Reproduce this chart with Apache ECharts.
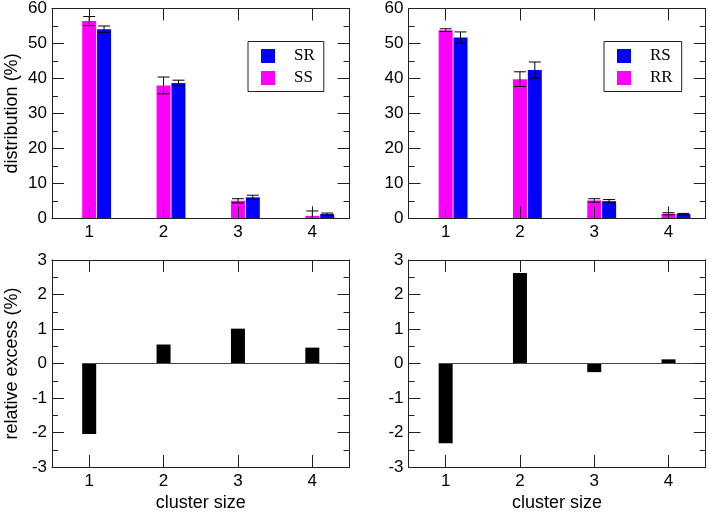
<!DOCTYPE html>
<html>
<head>
<meta charset="utf-8">
<script src="https://cdn.jsdelivr.net/npm/echarts@6/dist/echarts.min.js"></script>
<style>
  html, body { margin: 0; padding: 0; background: #fff; }
  #chart { width: 709px; height: 513px; }
</style>
</head>
<body>
<div id="chart"></div>
<script>
// cluster size categories
const clusterSizes = [1, 2, 3, 4];
const blueShift = 0.2; // blue bar sits right of the tick

// distribution (%), left panel
const ssVals = [56.4, 38.0, 5.0, 0.7];
const ssErr  = [1.3, 2.4, 0.6, 1.4];
const srVals = [54.1, 38.7, 6.0, 1.2];
const srErr  = [0.9, 0.8, 0.6, 0.3];
// distribution (%), right panel
const rrVals = [53.8, 39.8, 5.1, 1.3];
const rrErr  = [0.4, 2.1, 0.5, 0.3];
const rsVals = [51.7, 42.4, 4.9, 1.2];
const rsErr  = [1.6, 2.3, 0.45, 0.2];
// relative excess (%)
const excessS = [-2.04, 0.55, 1.01, 0.46];
const excessR = [-2.31, 2.62, -0.25, 0.12];

const MAGENTA = '#ff00ff', BLUE = '#0000ff', INK = '#222';
const FONT = 'Liberation Sans';

const chart = echarts.init(document.getElementById('chart'));

const grids = [
  { left: 52, top: 8, width: 297.5, height: 210.3 },
  { left: 408.5, top: 8, width: 297.2, height: 210.3 },
  { left: 52, top: 260, width: 297.5, height: 209.3 },
  { left: 408.5, top: 260, width: 297.2, height: 209.3 }
];

const xAxes = [], yAxes = [];
grids.forEach((g, i) => {
  const bottomRow = i >= 2;
  const common = {
    type: 'value', gridIndex: i, min: 0.5, max: 4.5, z: 6,
    splitLine: { show: false },
    axisLine: { show: true, onZero: false, lineStyle: { color: INK, width: 1 } },
    axisTick: { show: true, inside: true, length: 12, customValues: clusterSizes, lineStyle: { color: INK } }
  };
  xAxes.push(Object.assign({}, common, {
    position: 'bottom',
    axisLabel: { customValues: clusterSizes, color: '#000', fontSize: 17, fontFamily: FONT, margin: 6 },
    name: bottomRow ? 'cluster size' : '',
    nameLocation: 'middle', nameGap: 27,
    nameTextStyle: { fontSize: 18, fontFamily: FONT, color: '#000' }
  }));
  xAxes.push(Object.assign({}, common, { position: 'top', axisLabel: { show: false } }));

  const yc = {
    type: 'value', gridIndex: i, z: 6,
    min: bottomRow ? -3 : 0, max: bottomRow ? 3 : 60, interval: bottomRow ? 1 : 10,
    splitLine: { show: false },
    axisLine: { show: true, onZero: false, lineStyle: { color: INK, width: 1 } },
    axisTick: { show: true, inside: true, length: 12, lineStyle: { color: INK } },
    minorTick: { show: true, splitNumber: 2, length: 6, lineStyle: { color: INK } }
  };
  let yName = '';
  if (i === 0) yName = 'distribution (%)';
  if (i === 2) yName = 'relative excess (%)';
  yAxes.push(Object.assign({}, yc, {
    position: 'left',
    axisLabel: { color: '#000', fontSize: 17, fontFamily: FONT, margin: 5 },
    name: yName, nameLocation: 'middle', nameGap: 31,
    nameTextStyle: { fontSize: 18, fontFamily: FONT, color: '#000' }
  }));
  yAxes.push(Object.assign({}, yc, { position: 'right', axisLabel: { show: false } }));
});

function pts(xs, ys, shift) {
  return xs.map((x, k) => [x + shift, ys[k]]);
}
function errPts(xs, ys, es, shift) {
  return xs.map((x, k) => [x + shift, ys[k], es[k]]);
}

function barSeries(name, data, color, gi) {
  return {
    name: name, type: 'bar', xAxisIndex: 2 * gi, yAxisIndex: 2 * gi,
    data: data, barWidth: 14, barGap: '-100%',
    itemStyle: { color: color }, silent: true
  };
}

function errSeries(data, gi) {
  return {
    type: 'custom', xAxisIndex: 2 * gi, yAxisIndex: 2 * gi, clip: true, silent: true,
    data: data, z: 5,
    renderItem: function (params, api) {
      const x = api.value(0), y = api.value(1), e = api.value(2);
      const hi = api.coord([x, y + e]);
      const lo = api.coord([x, y - e]);
      const w = 6;
      const st = { stroke: '#000', lineWidth: 1 };
      return {
        type: 'group',
        children: [
          { type: 'line', shape: { x1: hi[0], y1: hi[1], x2: lo[0], y2: lo[1] }, style: st },
          { type: 'line', shape: { x1: hi[0] - w, y1: hi[1], x2: hi[0] + w, y2: hi[1] }, style: st },
          { type: 'line', shape: { x1: lo[0] - w, y1: lo[1], x2: lo[0] + w, y2: lo[1] }, style: st }
        ]
      };
    }
  };
}

function excessSeries(vals, gi) {
  return {
    type: 'bar', xAxisIndex: 2 * gi, yAxisIndex: 2 * gi,
    data: pts(clusterSizes, vals, 0), barWidth: 14,
    itemStyle: { color: '#000' }, silent: true,
    markLine: {
      silent: true, symbol: 'none', label: { show: false },
      lineStyle: { color: '#444', width: 1, type: 'solid' },
      data: [[{ coord: [0.91, 0] }, { coord: [4.5, 0] }]]
    }
  };
}

const legendBase = {
  orient: 'vertical', icon: 'rect', itemWidth: 14, itemHeight: 14, itemGap: 5,
  padding: [6, 9, 5, 13], borderColor: INK, borderWidth: 1,
  selectedMode: false,
  textStyle: { fontFamily: 'Liberation Serif', fontSize: 17, color: '#000', padding: [0, 0, 0, 14] }
};

chart.setOption({
  animation: false,
  grid: grids,
  xAxis: xAxes,
  yAxis: yAxes,
  legend: [
    Object.assign({}, legendBase, { data: ['SR', 'SS'], left: 248, top: 41.5 }),
    Object.assign({}, legendBase, { data: ['RS', 'RR'], left: 604, top: 41.5 })
  ],
  series: [
    barSeries('SS', pts(clusterSizes, ssVals, 0), MAGENTA, 0),
    barSeries('SR', pts(clusterSizes, srVals, blueShift), BLUE, 0),
    errSeries(errPts(clusterSizes, ssVals, ssErr, 0), 0),
    errSeries(errPts(clusterSizes, srVals, srErr, blueShift), 0),
    barSeries('RR', pts(clusterSizes, rrVals, 0), MAGENTA, 1),
    barSeries('RS', pts(clusterSizes, rsVals, blueShift), BLUE, 1),
    errSeries(errPts(clusterSizes, rrVals, rrErr, 0), 1),
    errSeries(errPts(clusterSizes, rsVals, rsErr, blueShift), 1),
    excessSeries(excessS, 2),
    excessSeries(excessR, 3)
  ]
});
</script>
</body>
</html>
